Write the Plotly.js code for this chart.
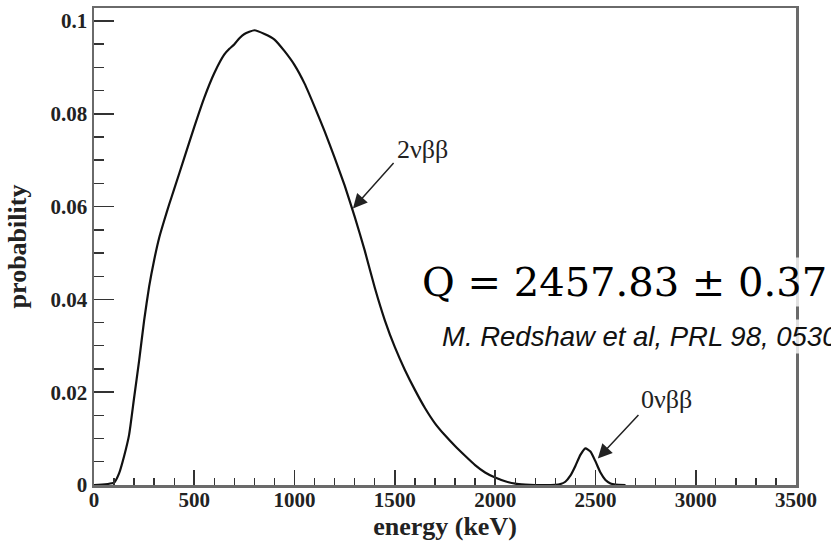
<!DOCTYPE html>
<html>
<head>
<meta charset="utf-8">
<script src="https://cdn.plot.ly/plotly-3.0.1.min.js"></script>
<style>html,body{margin:0;padding:0;background:#fff;}#chart{width:831px;height:543px;}</style>
</head>
<body>
<div id="chart"></div>
<script>
// Energy (keV) of the sampled spectrum points
const energy = [0, 100, 125, 150, 175, 200, 225, 250, 275, 300, 325, 350, 375, 400, 450, 500, 550, 600, 650, 675, 700, 725, 750, 800, 850, 900, 950, 1000, 1050, 1100, 1150, 1200, 1250, 1300, 1350, 1400, 1450, 1500, 1550, 1600, 1650, 1700, 1750, 1800, 1850, 1900, 1950, 2000, 2050, 2100, 2150, 2200, 2300, 2325, 2350, 2375, 2400, 2425, 2450, 2475, 2500, 2525, 2550, 2575, 2600, 2650];
// Probability values (2νββ continuum followed by the 0νββ peak)
const probability = [0, 0.0005, 0.0025, 0.0062, 0.0108, 0.0188, 0.0268, 0.0355, 0.0428, 0.0485, 0.0533, 0.057, 0.0605, 0.0638, 0.0705, 0.0772, 0.0835, 0.0888, 0.0928, 0.094, 0.095, 0.0963, 0.0972, 0.098, 0.0972, 0.096, 0.0935, 0.0905, 0.0865, 0.0815, 0.0762, 0.0705, 0.0645, 0.0578, 0.0505, 0.0425, 0.0355, 0.0297, 0.0248, 0.0205, 0.0166, 0.0133, 0.0107, 0.0084, 0.0063, 0.0043, 0.0027, 0.0016, 0.0008, 0.0003, 0.0001, 0, 0.00004, 0.0002, 0.0007, 0.002, 0.0041, 0.0065, 0.0079, 0.0072, 0.0051, 0.0027, 0.0011, 0.00035, 0.0001, 0];

const xTickVals = [0, 500, 1000, 1500, 2000, 2500, 3000, 3500];
const yTickVals = [0, 0.02, 0.04, 0.06, 0.08, 0.1];
const yTickText = ['0', '0.02', '0.04', '0.06', '0.08', '0.1'];

const labels = {
  twoNu: '2νββ',
  zeroNu: '0νββ',
  qValue: 'Q = 2457.83 ± 0.37',
  citation: 'M. Redshaw et al, PRL 98, 053003 (2007)',
  xTitle: 'energy (keV)',
  yTitle: 'probability'
};

const serif = 'Liberation Serif, Times New Roman, serif';
const tickFont = {family: serif, size: 21, weight: 'bold', color: '#222'};

const trace = {
  x: energy,
  y: probability,
  type: 'scatter',
  mode: 'lines',
  line: {color: '#111', width: 2.2, shape: 'spline', smoothing: 0.5},
  hoverinfo: 'skip'
};

const axisCommon = {
  showline: true, linecolor: '#6a6a6a', linewidth: 2.5, mirror: true,
  showgrid: false, zeroline: false,
  ticks: 'inside', tickcolor: '#333', tickwidth: 1.6,
  tickfont: tickFont
};

const layout = {
  width: 831, height: 543,
  margin: {l: 94, r: 35, t: 8, b: 58},
  paper_bgcolor: '#fff', plot_bgcolor: '#fff',
  showlegend: false,
  font: {family: serif, color: '#222'},
  xaxis: Object.assign({}, axisCommon, {
    range: [0, 3500],
    tickmode: 'array', tickvals: xTickVals,
    ticklen: 15,
    ticklabelstandoff: -6,
    minor: {ticks: 'inside', dtick: 100, tick0: 0, ticklen: 7, tickcolor: '#333', tickwidth: 1.4, showgrid: false},
    title: {text: labels.xTitle, font: {family: serif, size: 26, weight: 'bold', color: '#222'}, standoff: 4}
  }),
  yaxis: Object.assign({}, axisCommon, {
    range: [0, 0.1028],
    tickmode: 'array', tickvals: yTickVals, ticktext: yTickText,
    ticklen: 20,
    minor: {ticks: 'inside', dtick: 0.005, tick0: 0, ticklen: 10, tickcolor: '#333', tickwidth: 1.4, showgrid: false},
    title: {text: labels.yTitle, font: {family: serif, size: 26, weight: 'bold', color: '#222'}, standoff: 17}
  }),
  annotations: [
    {x: 1291, y: 0.0596, xref: 'x', yref: 'y', text: '', showarrow: true,
     ax: 42, ay: -47, arrowhead: 2, arrowsize: 1.9, arrowwidth: 1.5, arrowcolor: '#222'},
    {x: 2512, y: 0.0057, xref: 'x', yref: 'y', text: '', showarrow: true,
     ax: 42, ay: -45, arrowhead: 2, arrowsize: 1.9, arrowwidth: 1.5, arrowcolor: '#222'},
    {x: 1499, y: 0.0722, xref: 'x', yref: 'y', text: labels.twoNu, showarrow: false,
     xanchor: 'left', yanchor: 'middle', font: {family: serif, size: 26, color: '#222'}},
    {x: 2719, y: 0.0184, xref: 'x', yref: 'y', text: labels.zeroNu, showarrow: false,
     xanchor: 'left', yanchor: 'middle', font: {family: serif, size: 26, color: '#222'}},
    {x: 1625, y: 0.0438, xref: 'x', yref: 'y', text: labels.qValue, showarrow: false,
     xanchor: 'left', yanchor: 'middle', bgcolor: 'rgba(255,255,255,0.8)',
     font: {family: 'DejaVu Serif, serif', size: 40, color: '#000'}},
    {x: 1723, y: 0.0319, xref: 'x', yref: 'y', text: labels.citation, showarrow: false,
     xanchor: 'left', yanchor: 'middle', bgcolor: 'rgba(255,255,255,0.8)',
     font: {family: 'Liberation Sans, Arial, sans-serif', size: 27.5, style: 'italic', color: '#111'}}
  ]
};

Plotly.newPlot('chart', [trace], layout, {staticPlot: true, displayModeBar: false});
</script>
</body>
</html>
